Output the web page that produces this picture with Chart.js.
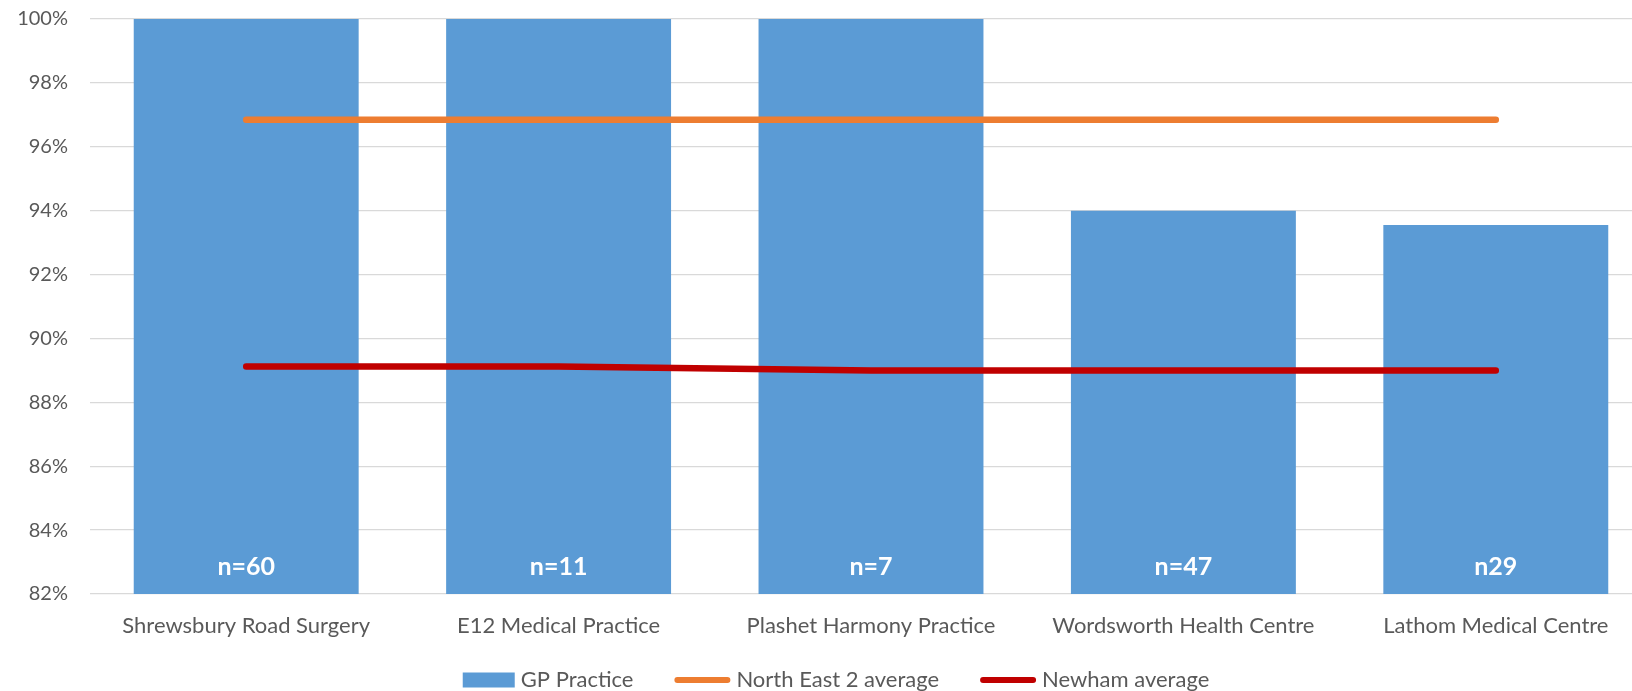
<!DOCTYPE html>
<html><head><meta charset="utf-8">
<script src="https://cdn.jsdelivr.net/npm/chart.js@4.4.1/dist/chart.umd.min.js"></script>
<style>
html,body{margin:0;padding:0;overflow:hidden;background:#fff;width:1632px;height:691px}
#wrap{position:absolute;left:0;top:0;width:1672px;height:691px}
</style>
</head><body><div id="wrap"><canvas id="c" width="1672" height="691"></canvas></div>
<script>
const categories = ['Shrewsbury Road Surgery','E12 Medical Practice','Plashet Harmony Practice','Wordsworth Health Centre','Lathom Medical Centre'];
const gpPractice = [100, 100, 100, 94.0, 93.55];
const northEast2Average = [96.85, 96.85, 96.85, 96.85, 96.85];
const newhamAverage = [89.12, 89.12, 89.0, 89.0, 89.0];
const sampleLabels = ['n=60','n=11','n=7','n=47','n29'];
const yMin = 82, yMax = 100, yStep = 2;

const FONT = 'Lato';
const GREY = '#595959';

const nLabelPlugin = {
  id: 'nlabels',
  afterDatasetsDraw(chart) {
    const meta = chart.getDatasetMeta(0);
    const ctx = chart.ctx;
    const baseY = chart.chartArea.bottom;
    ctx.save();
    ctx.font = 'bold 25px ' + FONT;
    ctx.fillStyle = '#ffffff';
    ctx.textAlign = 'center';
    ctx.textBaseline = 'middle';
    meta.data.forEach((bar, i) => {
      ctx.fillText(sampleLabels[i], bar.x, baseY - 27);
    });
    ctx.restore();
  }
};

// Excel-like legend drawn under the axis
const legendPlugin = {
  id: 'xlLegend',
  afterDraw(chart) {
    const ctx = chart.ctx;
    const cy = 680, centerX = 836;
    const symGap = 6, itemGap = 41;
    ctx.save();
    ctx.font = '22px ' + FONT;
    ctx.textBaseline = 'middle';
    const items = chart.data.datasets.map(ds => {
      const isLine = ds.type === 'line';
      return { text: ds.label, isLine, color: isLine ? ds.borderColor : ds.backgroundColor,
               symW: isLine ? 56 : 52, textW: ctx.measureText(ds.label).width };
    });
    let total = 0;
    items.forEach((it, i) => { total += it.symW + symGap + it.textW + (i < items.length - 1 ? itemGap : 0); });
    let x = centerX - total / 2;
    items.forEach(it => {
      if (it.isLine) {
        ctx.strokeStyle = it.color;
        ctx.lineWidth = 6;
        ctx.lineCap = 'round';
        ctx.beginPath();
        ctx.moveTo(x + 3, cy);
        ctx.lineTo(x + it.symW - 3, cy);
        ctx.stroke();
      } else {
        ctx.fillStyle = it.color;
        ctx.fillRect(x, cy - 7.5, it.symW, 15);
      }
      x += it.symW + symGap;
      ctx.fillStyle = GREY;
      ctx.textAlign = 'left';
      ctx.fillText(it.text, x, cy);
      x += it.textW + itemGap;
    });
    ctx.restore();
  }
};

new Chart(document.getElementById('c'), {
  type: 'bar',
  data: {
    labels: categories,
    datasets: [
      { label: 'GP Practice', data: gpPractice, backgroundColor: '#5B9BD5', borderWidth: 0,
        barPercentage: 0.72, categoryPercentage: 1.0, order: 3 },
      { label: 'North East 2 average', type: 'line', data: northEast2Average, borderColor: '#ED7D31',
        backgroundColor: '#ED7D31', borderWidth: 6.5, pointRadius: 0, borderCapStyle: 'round', tension: 0, order: 1 },
      { label: 'Newham average', type: 'line', data: newhamAverage, borderColor: '#C00000',
        backgroundColor: '#C00000', borderWidth: 6.5, pointRadius: 0, borderCapStyle: 'round', tension: 0, order: 0 }
    ]
  },
  options: {
    responsive: false,
    animation: false,
    devicePixelRatio: 1,
    layout: { padding: { left: 0, right: 20, top: 19, bottom: 51 } },
    plugins: {
      tooltip: { enabled: false },
      legend: { display: false }
    },
    scales: {
      x: {
        afterFit(scale) { scale.height = 46; },
        grid: { display: false, drawTicks: false },
        border: { display: false },
        ticks: { color: GREY, font: { family: FONT, size: 22 }, padding: 19, maxRotation: 0, autoSkip: false }
      },
      y: {
        min: yMin, max: yMax,
        afterFit(scale) { scale.width = 90; },
        border: { display: false },
        grid: { color: '#D9D9D9', lineWidth: 1.3, drawTicks: true, tickLength: 22, tickColor: 'rgba(0,0,0,0)' },
        ticks: { stepSize: yStep, color: GREY, font: { family: FONT, size: 20 }, padding: 0,
          callback: v => v + '%' }
      }
    }
  },
  plugins: [nLabelPlugin, legendPlugin]
});
</script>
</body></html>
